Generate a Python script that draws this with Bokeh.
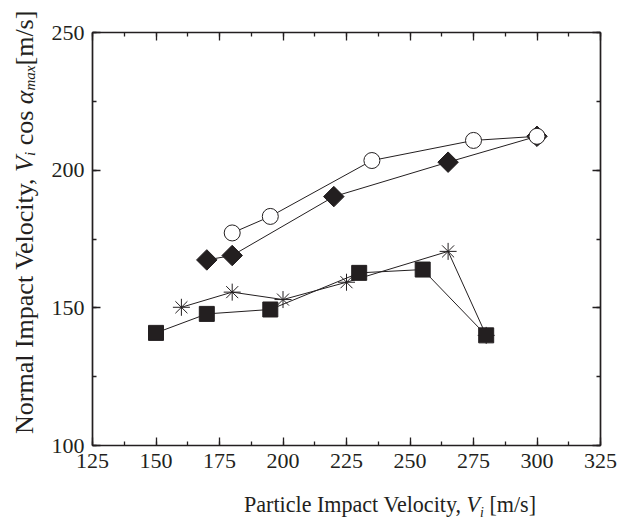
import math

from bokeh.embed import file_html
from bokeh.layouts import column, row
from bokeh.models import CustomJSTickFormatter, Div, LinearAxis, Range1d, SingleIntervalTicker
from bokeh.plotting import figure
from bokeh.resources import INLINE

# Particle impact velocity Vi [m/s] and normal impact velocity Vi cos(alpha_max) [m/s]
circle_vi = [180, 195, 235, 275, 300]
circle_vn = [177.2, 183.2, 203.5, 210.8, 212.3]

diamond_vi = [170, 180, 220, 265, 300]
diamond_vn = [167.4, 169.0, 190.4, 202.9, 212.3]

star_vi = [160, 180, 200, 225, 265, 280]
star_vn = [150.2, 155.7, 153.0, 159.3, 170.5, 140.0]

square_vi = [150, 170, 195, 230, 255, 280]
square_vn = [140.9, 147.8, 149.4, 162.7, 163.9, 140.0]

X_MIN, X_MAX, X_STEP = 125, 325, 25
Y_MIN, Y_MAX, Y_STEP = 100, 250, 50

X_TITLE = 'Particle Impact Velocity, <i>V</i><span class="sub"><i>i</i></span> [m/s]'
Y_TITLE = ('Normal Impact Velocity, <i>V</i><span class="sub"><i>i</i></span> cos '
           '<i>&alpha;</i><span class="sub"><i>max</i></span><span class="gap"></span>[m/s]')

INK = "#231f20"
SERIF = "Liberation Serif"

# canvas 619 x 521: y-title strip on the left, x-title strip at the bottom
TOTAL_W, TOTAL_H = 619, 521
STRIP_W = 44
PLOT_W, PLOT_H = TOTAL_W - STRIP_W, 480
FRAME_LEFT, FRAME_RIGHT, FRAME_TOP, FRAME_BOTTOM = 92, 600, 32, 445

p = figure(
    width=PLOT_W, height=PLOT_H,
    x_range=Range1d(X_MIN, X_MAX), y_range=Range1d(Y_MIN, Y_MAX),
    output_backend="svg", toolbar_location=None,
    min_border_left=FRAME_LEFT - STRIP_W, min_border_right=TOTAL_W - FRAME_RIGHT,
    min_border_top=FRAME_TOP, min_border_bottom=PLOT_H - FRAME_BOTTOM,
    x_axis_type=None, y_axis_type=None,
)
p.outline_line_color = None
p.xgrid.visible = False
p.ygrid.visible = False
p.background_fill_color = "white"
p.border_fill_color = "white"


def make_axis(step, labelled):
    ax = LinearAxis(ticker=SingleIntervalTicker(interval=step, num_minor_ticks=2))
    ax.axis_line_color = INK
    ax.axis_line_width = 1.7
    ax.major_tick_line_color = INK
    ax.major_tick_line_width = 1.3
    ax.minor_tick_line_color = INK
    ax.minor_tick_line_width = 1.3
    ax.major_tick_in = 8
    ax.major_tick_out = 0
    ax.minor_tick_in = 4
    ax.minor_tick_out = 0
    ax.major_label_text_font = SERIF
    ax.major_label_text_font_size = "22px"
    ax.major_label_text_color = INK
    ax.major_label_standoff = 8
    if not labelled:
        ax.formatter = CustomJSTickFormatter(code="return ''")
        ax.major_label_standoff = 0
    return ax


p.add_layout(make_axis(X_STEP, True), "below")
p.add_layout(make_axis(Y_STEP, True), "left")
p.add_layout(make_axis(X_STEP, False), "above")
p.add_layout(make_axis(Y_STEP, False), "right")

# series: connecting lines first, then markers on top
p.line(diamond_vi, diamond_vn, line_color=INK, line_width=1)
p.line(circle_vi, circle_vn, line_color=INK, line_width=1)
p.line(star_vi, star_vn, line_color=INK, line_width=1)
p.line(square_vi, square_vn, line_color=INK, line_width=1)

p.scatter(diamond_vi, diamond_vn, marker="square", size=14.5, angle=math.pi / 4,
          fill_color=INK, line_color=INK, line_width=1)
p.scatter(circle_vi, circle_vn, marker="circle", size=16,
          fill_color="white", line_color=INK, line_width=1)
p.scatter(star_vi, star_vn, marker="asterisk", size=17,
          line_color=INK, line_width=1)
p.scatter(square_vi, square_vn, marker="square", size=15,
          fill_color=INK, line_color=INK, line_width=1)

SUB_CSS = (
    "<style>"
    ".sub{font-size:15px;vertical-align:-5px;line-height:0;}"
    ".gap{display:inline-block;width:3px;}"
    "</style>"
)

# y-axis title, written vertically and turned to read bottom-to-top
y_title = Div(
    width=STRIP_W, height=PLOT_H, margin=0,
    text=SUB_CSS + (
        '<div style="writing-mode:vertical-rl;transform:rotate(180deg);'
        'width:30px;height:444px;margin-left:10px;line-height:30px;text-align:center;'
        f"white-space:nowrap;font-family:'{SERIF}';font-size:26px;color:{INK};\">"
        + Y_TITLE + "</div>"
    ),
)

# x-axis title
x_title = Div(
    width=TOTAL_W, height=TOTAL_H - PLOT_H, margin=0,
    text=SUB_CSS + (
        '<div style="display:inline-block;white-space:nowrap;margin-left:244px;'
        'padding-top:12px;line-height:24px;transform:scaleX(0.92);transform-origin:left top;'
        f"font-family:'{SERIF}';font-size:24px;color:{INK};\">"
        + X_TITLE + "</div>"
    ),
)

layout = column(row(y_title, p, spacing=0), x_title, spacing=0)

open("out.html", "w").write(file_html(layout, INLINE))
